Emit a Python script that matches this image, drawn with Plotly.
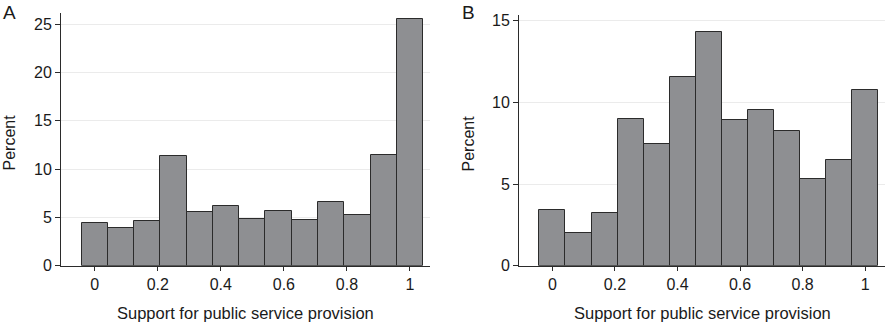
import plotly.graph_objects as go

# Bin centers (support for public service provision) and percent per bin
bin_centers = [k / 12 for k in range(13)]
bin_width = 1 / 12
percent_a = [4.4, 3.9, 4.6, 11.3, 5.6, 6.2, 4.85, 5.7, 4.75, 6.55, 5.2, 11.5, 25.5]
percent_b = [3.4, 2.0, 3.2, 9.0, 7.45, 11.55, 14.3, 8.95, 9.55, 8.25, 5.3, 6.5, 10.75]

x_ticks = [0, 0.2, 0.4, 0.6, 0.8, 1]
x_ticktext = ["0", "0.2", "0.4", "0.6", "0.8", "1"]
y_ticks_a = [0, 5, 10, 15, 20, 25]
y_ticks_b = [0, 5, 10, 15]
x_title = "Support for public service provision"
y_title = "Percent"
panel_labels = ["A", "B"]

FONT = "Liberation Sans, Arial, Helvetica, sans-serif"
BAR_FILL = "#8e8f92"
BAR_LINE = "#2b2b2b"
AXIS = "#2b2b2b"
GRID = "#ebebeb"
TXT = "#1a1a1a"
W, H = 885, 323

fig = go.Figure()
fig.add_trace(go.Bar(x=bin_centers, y=percent_a, width=bin_width,
                     marker=dict(color=BAR_FILL, line=dict(color=BAR_LINE, width=1)),
                     xaxis="x", yaxis="y", showlegend=False, hoverinfo="x+y"))
fig.add_trace(go.Bar(x=bin_centers, y=percent_b, width=bin_width,
                     marker=dict(color=BAR_FILL, line=dict(color=BAR_LINE, width=1)),
                     xaxis="x2", yaxis="y2", showlegend=False, hoverinfo="x+y"))

# pixel geometry
ya_bottom = (H - 265.7) / H
xa_dom = [61 / W, 430 / W]
xb_dom = [519 / W, 1.0]
ya_top = (H - 13) / H
yb_top = (H - 15) / H
xrange_ = [-0.107, 1.0635]

common_x = dict(range=xrange_, tickvals=x_ticks, ticktext=x_ticktext,
                showline=True, linecolor=AXIS, linewidth=1, ticks="outside",
                ticklen=4, tickcolor=AXIS, tickwidth=1, showgrid=False,
                zeroline=False, tickfont=dict(family=FONT, size=16, color=TXT),
                fixedrange=True, automargin=False)
common_y = dict(showline=True, linecolor=AXIS, linewidth=1, ticks="outside",
                ticklen=5, tickcolor=AXIS, tickwidth=1, showgrid=True,
                gridcolor=GRID, gridwidth=1, zeroline=False,
                tickfont=dict(family=FONT, size=16, color=TXT),
                fixedrange=True, automargin=False)

fig.update_layout(
    width=W, height=H,
    margin=dict(l=0, r=0, t=0, b=0, autoexpand=False),
    paper_bgcolor="white", plot_bgcolor="white",
    bargap=0,
    font=dict(family=FONT, size=16, color=TXT),
    xaxis=dict(domain=xa_dom, anchor="y", **common_x),
    yaxis=dict(domain=[ya_bottom, ya_top], anchor="x", range=[0, 26.14],
               tickvals=y_ticks_a, **common_y),
    xaxis2=dict(domain=xb_dom, anchor="y2", **common_x),
    yaxis2=dict(domain=[ya_bottom, yb_top], anchor="x2", range=[0, 15.35],
                tickvals=y_ticks_b, **common_y),
)

ann = []
# x axis titles
ann.append(dict(text=x_title, x=245 / W, y=(H - 313) / H, xref="paper", yref="paper",
                showarrow=False, xanchor="center", yanchor="middle",
                font=dict(family=FONT, size=16.5, color=TXT)))
ann.append(dict(text=x_title, x=702 / W, y=(H - 313) / H, xref="paper", yref="paper",
                showarrow=False, xanchor="center", yanchor="middle",
                font=dict(family=FONT, size=16.5, color=TXT)))
# y axis titles
ann.append(dict(text=y_title, x=8.5 / W, y=(H - 143) / H, xref="paper", yref="paper",
                showarrow=False, textangle=-90, xanchor="center", yanchor="middle",
                font=dict(family=FONT, size=16, color=TXT)))
ann.append(dict(text=y_title, x=467.5 / W, y=(H - 143) / H, xref="paper", yref="paper",
                showarrow=False, textangle=-90, xanchor="center", yanchor="middle",
                font=dict(family=FONT, size=16, color=TXT)))
# panel labels
ann.append(dict(text=panel_labels[0], x=1 / W, y=(H - 12.5) / H, xref="paper", yref="paper",
                showarrow=False, xanchor="left", yanchor="middle",
                font=dict(family=FONT, size=19, color=TXT)))
ann.append(dict(text=panel_labels[1], x=460 / W, y=(H - 12.5) / H, xref="paper", yref="paper",
                showarrow=False, xanchor="left", yanchor="middle",
                font=dict(family=FONT, size=19, color=TXT)))
fig.update_layout(annotations=ann)

fig.write_html("out.html", config={"displayModeBar": False, "staticPlot": False},
               post_script="document.body.style.margin='0';document.body.style.overflow='hidden';")
